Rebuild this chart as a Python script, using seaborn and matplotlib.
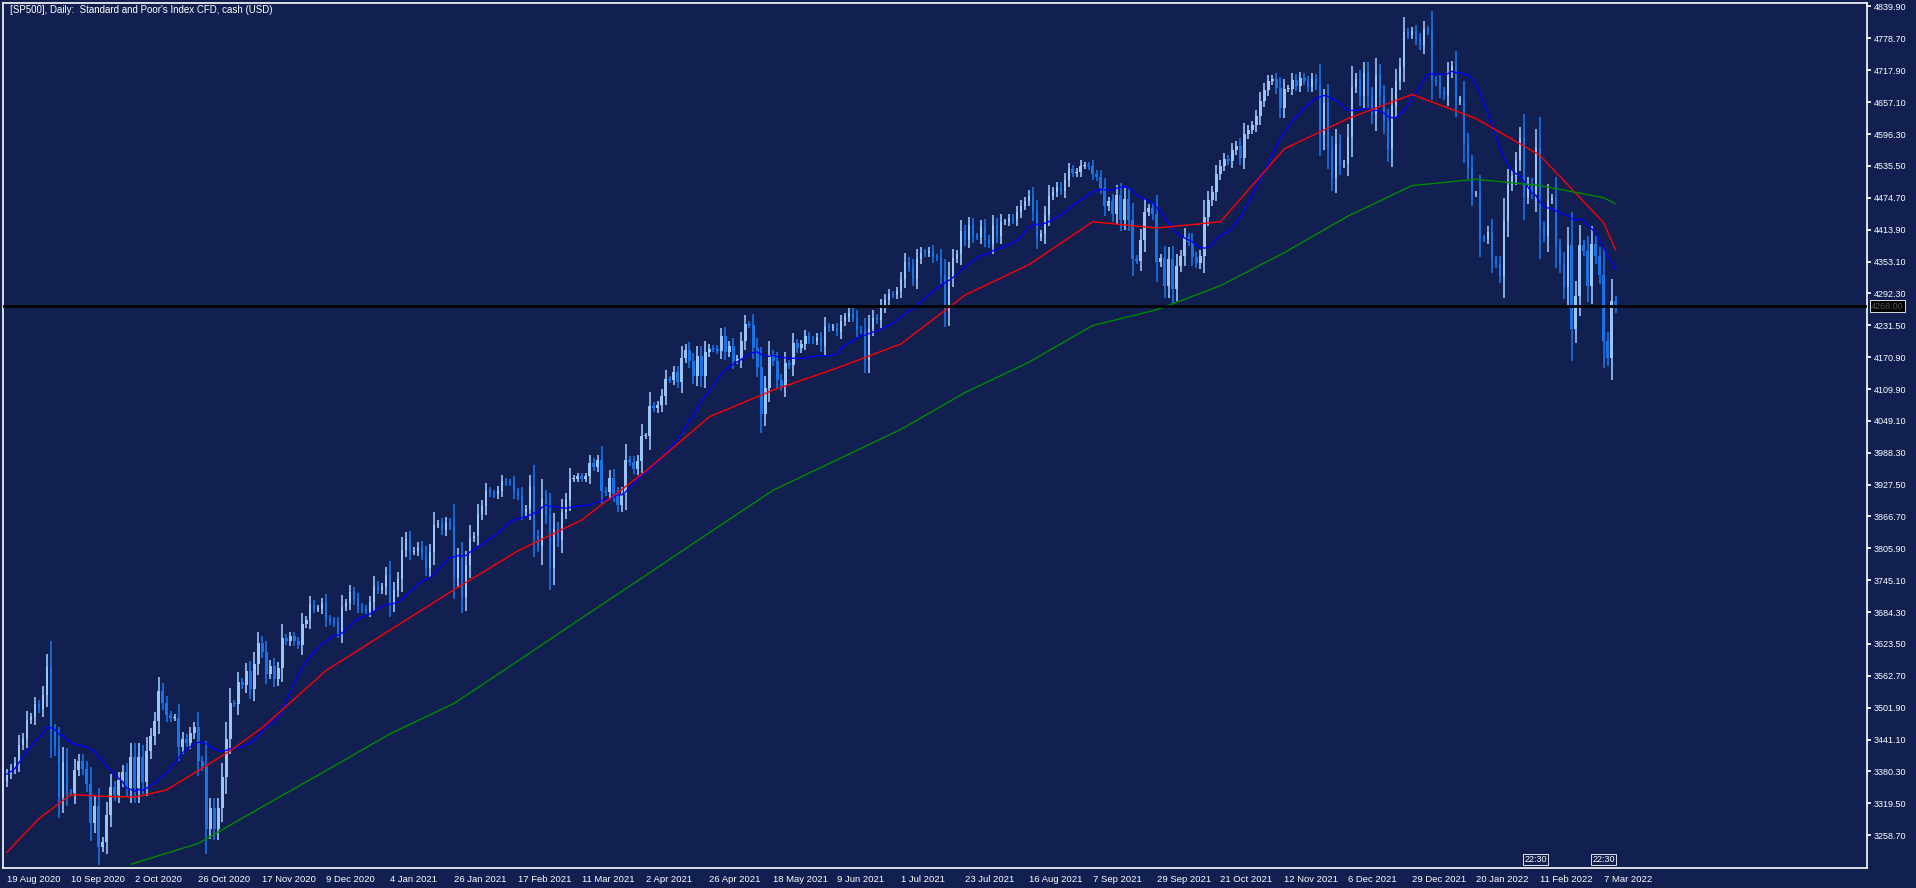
import numpy as np
import pandas as pd
import matplotlib
matplotlib.use("Agg")
import matplotlib.pyplot as plt
import seaborn as sns

closes = [
3375,3385,3397,3431,3443,3478,3484,3508,3500,3527,3580,3455,3426,3331,3398,3340,
3339,3383,3401,3385,3357,3281,3315,3236,3246,3298,3351,3335,3363,3380,3348,3408,
3348,3408,3360,3419,3447,3477,3534,3511,3488,3483,3483,3426,3443,3435,3453,3465,
3400,3390,3271,3310,3270,3310,3369,3443,3510,3509,3550,3545,3572,3537,3585,3626,
3609,3567,3582,3557,3577,3635,3629,3638,3629,3622,3662,3669,3699,3691,3691,3702,
3672,3668,3663,3647,3694,3701,3722,3709,3694,3690,3687,3703,3735,3727,3732,3756,
3700,3726,3748,3803,3824,3799,3801,3809,3795,3768,3798,3851,3853,3841,3855,3849,
3750,3787,3714,3774,3826,3830,3871,3886,3915,3911,3909,3916,3934,3932,3931,3913,
3906,3876,3881,3925,3829,3811,3901,3870,3768,3842,3821,3875,3898,3939,3939,3943,
3939,3943,3969,3962,3974,3916,3913,3940,3910,3889,3909,3975,3971,3958,3973,4020,
4020,4078,4073,4079,4097,4129,4128,4142,4124,4170,4185,4163,4135,4173,4134,4180,
4187,4186,4183,4211,4181,4192,4164,4167,4201,4233,4232,4188,4152,4063,4112,4174,
4163,4128,4116,4159,4156,4197,4188,4195,4211,4204,4202,4208,4192,4229,4226,4227,
4219,4239,4247,4255,4246,4223,4221,4166,4224,4246,4241,4266,4280,4291,4290,4297,
4320,4352,4343,4320,4358,4370,4369,4374,4361,4360,4327,4258,4323,4359,4367,4411,
4395,4422,4401,4400,4419,4395,4387,4423,4402,4429,4429,4436,4432,4447,4460,4468,
4479,4448,4400,4405,4441,4479,4486,4496,4488,4509,4529,4522,4524,4536,4537,4535,
4520,4514,4494,4459,4468,4443,4480,4433,4473,4432,4358,4355,4395,4448,4455,4443,
4352,4359,4307,4357,4300,4345,4363,4399,4391,4361,4350,4364,4438,4471,4486,4520,
4536,4549,4545,4566,4574,4551,4596,4605,4613,4630,4660,4680,4697,4701,4685,4646,
4682,4683,4700,4688,4704,4698,4687,4701,4690,4594,4655,4567,4513,4577,4538,4540,
4591,4686,4701,4668,4712,4668,4634,4709,4668,4620,4568,4649,4697,4725,4791,4786,
4793,4778,4766,4796,4793,4700,4696,4677,4670,4713,4726,4659,4662,4577,4532,4482,
4482,4398,4397,4410,4356,4349,4326,4431,4500,4516,4546,4589,4477,4500,4484,4570,
4418,4402,4471,4475,4380,4349,4304,4385,4225,4288,4384,4373,4306,4387,4363,4328,
4201,4170,4277,4265]
first_open = 3362

date_labels = ["19 Aug 2020","10 Sep 2020","2 Oct 2020","26 Oct 2020","17 Nov 2020","9 Dec 2020",
"4 Jan 2021","26 Jan 2021","17 Feb 2021","11 Mar 2021","2 Apr 2021","26 Apr 2021","18 May 2021",
"9 Jun 2021","1 Jul 2021","23 Jul 2021","16 Aug 2021","7 Sep 2021","29 Sep 2021","21 Oct 2021",
"12 Nov 2021","6 Dec 2021","29 Dec 2021","20 Jan 2022","11 Feb 2022","7 Mar 2022"]

ma_idx = [0,8,16,24,32,40,48,56,64,80,96,112,128,144,160,176,192,208,224,240,256,272,288,304,320,336,352,368,384,400,403]
red_ma = [3226,3290,3336,3333,3331,3345,3382,3420,3464,3573,3650,3727,3801,3860,3953,4057,4108,4150,4196,4289,4347,4429,4417,4429,4568,4626,4672,4626,4556,4427,4375]
green_idx = [31,48,64,80,96,112,128,144,160,176,192,208,224,240,256,272,288,304,320,336,352,368,384,400,403]
green_ma = [3203,3243,3313,3382,3452,3510,3591,3673,3754,3836,3917,3975,4033,4103,4161,4231,4261,4307,4370,4440,4498,4510,4498,4475,4463]

ytick_vals = [4839.90,4778.70,4717.90,4657.10,4596.30,4535.50,4474.70,4413.90,4353.10,4292.30,4231.50,
4170.90,4109.90,4049.10,3988.30,3927.50,3866.70,3805.90,3745.10,3684.30,3623.50,3562.70,3501.90,
3441.10,3380.30,3319.50,3258.70]
price_line = 4268.0

sns.set_theme(style="dark")
plt.rcParams['font.family'] = ['Liberation Sans', 'DejaVu Sans']
BG = "#112051"
fig = plt.figure(figsize=(19.16, 8.88), dpi=100, facecolor=BG)
ax = fig.add_axes([0.0015, 0.0225, 0.973, 0.9745], facecolor=BG)

c = np.array(closes, dtype=float)
o = np.concatenate([[first_open], c[:-1]])
x = np.arange(len(c))
rng = np.abs(c - o)
hi = np.maximum(o, c) + 0.35 * rng + 6
lo = np.minimum(o, c) - 0.35 * rng - 6
bull = c >= o
LIGHT, DARK = "#9cc4f6", "#1674e8"
cols = np.where(bull, LIGHT, DARK)
ax.vlines(x, lo, hi, colors=cols, lw=1.2, zorder=3)
ax.bar(x, np.maximum(rng, 1.5), bottom=np.minimum(o, c), width=0.62, color=cols, linewidth=0, zorder=4)

blue = pd.Series(c).rolling(20, min_periods=1).mean()
sns.lineplot(x=x, y=blue.values, ax=ax, color="#0000ff", lw=1, zorder=5)
sns.lineplot(x=ma_idx, y=red_ma, ax=ax, color="#ff0000", lw=1, zorder=5)
sns.lineplot(x=green_idx, y=green_ma, ax=ax, color="#008a00", lw=1, zorder=5)

ax.axhline(price_line, color="black", lw=2, zorder=6)

ax.set_xlim(-1, 466)
ax.set_ylim(3196, 4847)
for s in ax.spines.values():
    s.set_color("white"); s.set_linewidth(1.2)
ax.grid(False)
ax.yaxis.tick_right()
ax.set_yticks(ytick_vals)
ax.set_yticklabels([f"{v:.2f}" for v in ytick_vals])
ax.tick_params(axis="y", colors="white", labelsize=6.5, length=3, direction="out", pad=2)
ax.set_xticks([16 * i for i in range(len(date_labels))])
ax.set_xticklabels(date_labels, ha="left")
ax.tick_params(axis="x", colors="white", labelsize=6.8, length=3, direction="out", pad=2)
for t in ax.get_xticklabels():
    t.set_color("white")

ax.text(1.002, price_line, f"{price_line:.2f}", transform=ax.get_yaxis_transform(), va="center",
        ha="left", fontsize=6.5, color="#555555",
        bbox=dict(boxstyle="square,pad=0.15", fc="black", ec="white", lw=0.6), zorder=10)
ax.text(0.004, 0.997, "[SP500], Daily:  Standard and Poor's Index CFD, cash (USD)", transform=ax.transAxes,
        va="top", ha="left", fontsize=7, color="white")
for xi in (383, 400):
    ax.text(xi, 3212, "22:30", fontsize=6.5, color="white", ha="center", va="center",
            bbox=dict(boxstyle="square,pad=0.15", fc=BG, ec="white", lw=0.6), zorder=10)

fig.savefig("out.png", dpi=100, facecolor=BG)
